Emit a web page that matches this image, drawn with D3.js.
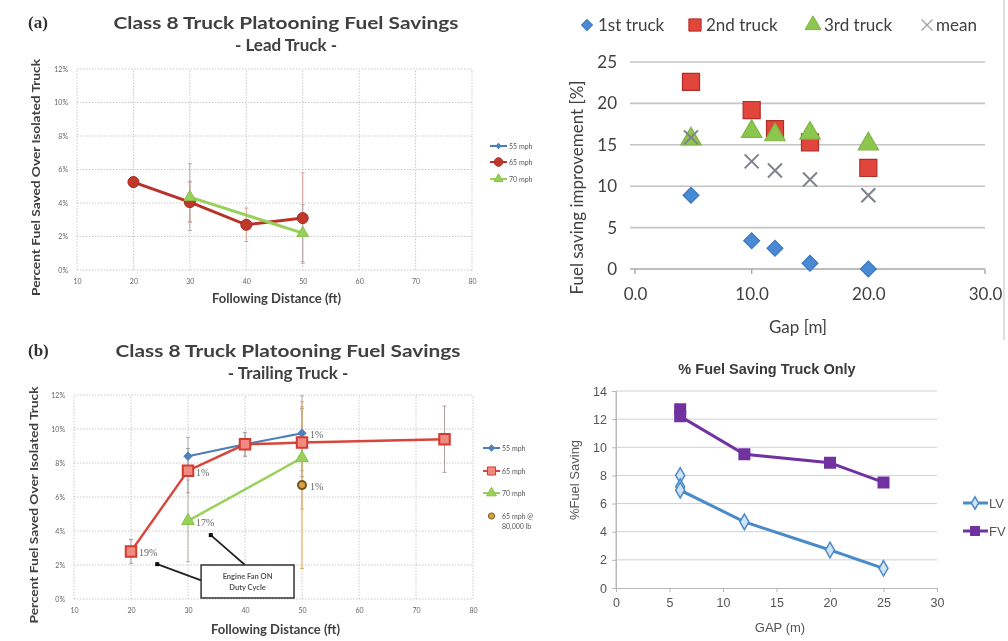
<!DOCTYPE html>
<html><head><meta charset="utf-8">
<script src="https://cdn.jsdelivr.net/npm/d3@7"></script>
<style>body{margin:0;background:#fff}svg{display:block}</style>
</head><body>
<script>
// ---------- Data ----------
const ftTicks = [10, 20, 30, 40, 50, 60, 70, 80];
const pctTicks = [0, 2, 4, 6, 8, 10, 12];

// (a) lead truck, % fuel saved vs following distance (ft)
const leadDist55 = [30];
const lead55 = [4.1];
const lead55Err = [1.2];
const leadDist65 = [20, 30, 40, 50];
const lead65 = [5.25, 4.05, 2.7, 3.1];
const lead65Err = [0.3, 1.2, 1.0, 2.7];
const leadDist70 = [30, 50];
const lead70 = [4.35, 2.2];
const lead70Err = [2.0, 1.7];

// (b) trailing truck
const trailDist55 = [30, 40, 50];
const trail55 = [8.4, 9.1, 9.75];
const trail55Err = [1.1, 0.7, 2.2];
const trailDist65 = [20, 30, 40, 50, 75];
const trail65 = [2.8, 7.55, 9.1, 9.2, 9.4];
const trail65Err = [0.7, 1.3, 0.7, 2.0, 1.95];
const trailDist70 = [30, 50];
const trail70 = [4.6, 8.3];
const trail70Err = [2.4, 3.0];
const trailDist80k = [50];
const trail80k = [6.7];
const trail80kErr = [4.9];
// coefficient-of-variation labels: [series, distance, text]
const covLabels = [["65", 20, "19%"], ["65", 30, "1%"], ["70", 30, "17%"], ["55", 50, "1%"], ["80k", 50, "1%"]];
const fanNote = ["Engine Fan ON", "Duty Cycle"];

// three-truck platoon, improvement vs gap (m)
const gapTicks = [0, 10, 20, 30];
const saveTicks = [0, 5, 10, 15, 20, 25];
const gapM = [4.8, 10, 12, 15, 20];
const truck1 = [8.9, 3.4, 2.5, 0.7, 0.0];
const truck2 = [22.6, 19.2, 16.9, 15.3, 12.2];
const truck3 = [15.7, 16.6, 16.2, 16.4, 15.1];
const truckMean = [15.9, 13.0, 11.9, 10.8, 8.9];
const truckNames = ["1st truck", "2nd truck", "3rd truck", "mean"];

// truck-only saving vs gap (m)
const gapTicksD = [0, 5, 10, 15, 20, 25, 30];
const fuelTicksD = [0, 2, 4, 6, 8, 10, 12, 14];
const lvGap = [6, 6, 6, 12, 20, 25];
const lvSave = [8.0, 7.2, 6.95, 4.7, 2.7, 1.4];
const fvGap = [6, 6, 12, 20, 25];
const fvSave = [12.7, 12.2, 9.5, 8.9, 7.5];

// ---------- Drawing ----------
const W = 1008, H = 641;
const svg = d3.select("body").append("svg").attr("width", W).attr("height", H);
const defs = svg.append("defs");
defs.append("filter").attr("id", "soft").append("feGaussianBlur").attr("stdDeviation", 0.6);
svg.append("rect").attr("width", W).attr("height", H).attr("fill", "#fff");
const root = svg.append("g").attr("filter", "url(#soft)");

const CAL = "Lato, 'Open Sans', sans-serif";
const ARI = "'Liberation Sans', Arial, sans-serif";
const sym = (type, size) => d3.symbol().type(type).size(size)();
// square diamond: a square turned by 45 degrees
const SQD = "sqd";
const shapePath = (type, size) => type === SQD ? sym(d3.symbolSquare, size) : sym(type, size);
const shapeRot = type => type === SQD ? " rotate(45)" : "";
const zip = (a, b, c) => a.map((v, i) => [v, b[i], c ? c[i] : 0]);

// Excel-style line chart with error bars
function errChart(cfg) {
  const g = root.append("g");
  const { x, y } = cfg;
  // dotted grid
  g.selectAll(".vg").data(ftTicks).join("line")
    .attr("x1", d => x(d)).attr("x2", d => x(d)).attr("y1", y(0)).attr("y2", y(12))
    .attr("stroke", "#c8c8c8").attr("stroke-width", 1).attr("stroke-dasharray", "1.5,1.5");
  g.selectAll(".hg").data(pctTicks).join("line")
    .attr("x1", x(10)).attr("x2", x(80)).attr("y1", d => y(d)).attr("y2", d => y(d))
    .attr("stroke", "#c8c8c8").attr("stroke-width", 1).attr("stroke-dasharray", "1.5,1.5");
  // axes labels
  const ax = g.append("g").attr("transform", `translate(0,${y(0)})`)
    .call(d3.axisBottom(x).tickValues(ftTicks).tickSize(0).tickPadding(9).tickFormat(d => d));
  const ay = g.append("g").attr("transform", `translate(${x(10)},0)`)
    .call(d3.axisLeft(y).tickValues(pctTicks).tickSize(0).tickPadding(9).tickFormat(d => d + "%"));
  [ax, ay].forEach(a => {
    a.select(".domain").remove();
    a.selectAll("text").attr("font-family", CAL).attr("font-size", 7).attr("fill", "#666");
  });
  // series
  cfg.series.forEach(s => {
    const pts = zip(s.xs, s.ys, s.errs);
    const eb = g.append("g").attr("stroke", s.errColor).attr("stroke-width", 1);
    pts.forEach(p => {
      if (!p[2]) return;
      eb.append("line").attr("x1", x(p[0])).attr("x2", x(p[0])).attr("y1", y(p[1] - p[2])).attr("y2", y(p[1] + p[2]));
      [p[1] - p[2], p[1] + p[2]].forEach(v => eb.append("line")
        .attr("x1", x(p[0]) - 2).attr("x2", x(p[0]) + 2).attr("y1", y(v)).attr("y2", y(v)));
    });
  });
  cfg.series.forEach(s => {
    const pts = zip(s.xs, s.ys);
    if (s.lineW) g.append("path").datum(pts).attr("fill", "none").attr("stroke", s.color)
      .attr("stroke-width", s.lineW).attr("d", d3.line().x(d => x(d[0])).y(d => y(d[1])));
    g.selectAll(null).data(pts).join("path")
      .attr("transform", d => `translate(${x(d[0])},${y(d[1])})` + shapeRot(s.shape))
      .attr("d", shapePath(s.shape, s.size)).attr("fill", s.fill).attr("stroke", s.stroke).attr("stroke-width", s.sw || 1);
  });
  // titles
  g.append("text").attr("x", cfg.tx).attr("y", cfg.ty1).attr("text-anchor", "middle")
    .attr("font-family", CAL).attr("font-weight", 700).attr("font-size", 17).attr("fill", "#404040")
    .attr("textLength", 345).attr("lengthAdjust", "spacingAndGlyphs")
    .text("Class 8 Truck Platooning Fuel Savings");
  g.append("text").attr("x", cfg.tx).attr("y", cfg.ty2).attr("text-anchor", "middle")
    .attr("font-family", CAL).attr("font-weight", 700).attr("font-size", 17).attr("fill", "#404040")
    .text(cfg.sub);
  g.append("text").attr("x", 28).attr("y", cfg.ty1 - 1)
    .attr("font-family", "'Liberation Serif', serif").attr("font-weight", 700).attr("font-size", 17).attr("fill", "#333")
    .text(cfg.tag);
  g.append("text").attr("transform", `translate(${cfg.yx},${(y(0) + y(12)) / 2 + 8}) rotate(-90)`)
    .attr("text-anchor", "middle").attr("font-family", CAL).attr("font-weight", 700).attr("font-size", 12)
    .attr("fill", "#404040").attr("textLength", 237).attr("lengthAdjust", "spacingAndGlyphs")
    .text("Percent Fuel Saved Over Isolated Truck");
  g.append("text").attr("x", (x(10) + x(80)) / 2 + 2).attr("y", cfg.xty).attr("text-anchor", "middle")
    .attr("font-family", CAL).attr("font-weight", 700).attr("font-size", 13).attr("fill", "#404040")
    .text("Following Distance (ft)");
  // legend
  const lg = g.append("g").attr("font-family", CAL).attr("font-size", 7).attr("fill", "#555");
  cfg.series.forEach((s, i) => {
    const ly = cfg.legY[i];
    if (s.lineW) lg.append("line").attr("x1", cfg.legX).attr("x2", cfg.legX + 17).attr("y1", ly).attr("y2", ly)
      .attr("stroke", s.color).attr("stroke-width", Math.min(2, s.lineW));
    lg.append("path").attr("transform", `translate(${cfg.legX + 8.5},${ly})` + shapeRot(s.shape))
      .attr("d", shapePath(s.shape, s.size * 0.6)).attr("fill", s.fill).attr("stroke", s.stroke).attr("stroke-width", 1);
    s.label.forEach((t, k) => lg.append("text").attr("x", cfg.legX + 19).attr("y", ly + 2.5 + k * 10).text(t));
  });
  return g;
}

// (a) lead truck
const xA = d3.scaleLinear().domain([10, 80]).range([77, 472]);
const yA = d3.scaleLinear().domain([0, 12]).range([270, 69]);
errChart({
  x: xA, y: yA, tx: 286, ty1: 29, ty2: 51, sub: "- Lead Truck -", tag: "(a)", yx: 40, xty: 303,
  legX: 490, legY: [146, 162, 179],
  series: [
    { xs: leadDist55, ys: lead55, errs: lead55Err, color: "#4a7ebb", lineW: 2, errColor: "#a9a9a9",
      shape: SQD, size: 20, fill: "#4f81bd", stroke: "#4f81bd", label: ["55 mph"] },
    { xs: leadDist65, ys: lead65, errs: lead65Err, color: "#b8302a", lineW: 3, errColor: "#e2a09a",
      shape: d3.symbolCircle, size: 95, fill: "#c0392b", stroke: "#a8261f", label: ["65 mph"] },
    { xs: leadDist70, ys: lead70, errs: lead70Err, color: "#98d05a", lineW: 3, errColor: "#b0b0b0",
      shape: d3.symbolTriangle, size: 60, fill: "#98d05a", stroke: "#88c04a", label: ["70 mph"] }
  ]
});

// (b) trailing truck
const xB = d3.scaleLinear().domain([10, 80]).range([74, 473]);
const yB = d3.scaleLinear().domain([0, 12]).range([599, 395]);
const gB = errChart({
  x: xB, y: yB, tx: 288, ty1: 357, ty2: 379, sub: "- Trailing Truck -", tag: "(b)", yx: 38, xty: 634,
  legX: 483, legY: [448, 471, 493, 516],
  series: [
    { key: "55", xs: trailDist55, ys: trail55, errs: trail55Err, color: "#4a7ebb", lineW: 2, errColor: "#a9b3c4",
      shape: SQD, size: 32, fill: "#4f81bd", stroke: "#4f81bd", label: ["55 mph"] },
    { key: "65", xs: trailDist65, ys: trail65, errs: trail65Err, color: "#d9453c", lineW: 2.5, errColor: "#b0a0a0",
      shape: d3.symbolSquare, size: 110, fill: "#f08a80", stroke: "#d33b31", sw: 2, label: ["65 mph"] },
    { key: "70", xs: trailDist70, ys: trail70, errs: trail70Err, color: "#9ad15a", lineW: 2.5, errColor: "#b5b5a5",
      shape: d3.symbolTriangle, size: 70, fill: "#9ad15a", stroke: "#88c04a", label: ["70 mph"] },
    { key: "80k", xs: trailDist80k, ys: trail80k, errs: trail80kErr, color: "#8a6a20", lineW: 0, errColor: "#e8a850",
      shape: d3.symbolCircle, size: 50, fill: "#e0a040", stroke: "#6b5a20", sw: 2, label: ["65 mph @", "80,000 lb"] }
  ]
});
// CoV labels next to their markers
const seriesB = { "55": [trailDist55, trail55], "65": [trailDist65, trail65], "70": [trailDist70, trail70], "80k": [trailDist80k, trail80k] };
covLabels.forEach(([k, d, t]) => {
  const v = seriesB[k][1][seriesB[k][0].indexOf(d)];
  gB.append("text").attr("x", xB(d) + 8).attr("y", yB(v) + 5)
    .attr("font-family", "'Liberation Serif', serif").attr("font-size", 10).attr("fill", "#666").text(t);
});
// "Engine Fan ON / Duty Cycle" callout (positions in chart units)
const note = { x0: 32.3, x1: 48.6, y0: 0.06, y1: 2.0 };
const arrows = [[[note.x0, 1.1], [24.6, 2.05]], [[40.0, note.y1], [34.0, 3.76]]];
arrows.forEach(([a, b]) => {
  gB.append("line").attr("x1", xB(a[0])).attr("y1", yB(a[1])).attr("x2", xB(b[0])).attr("y2", yB(b[1]))
    .attr("stroke", "#222").attr("stroke-width", 1.8);
  gB.append("rect").attr("x", xB(b[0]) - 2).attr("y", yB(b[1]) - 2).attr("width", 4).attr("height", 4).attr("fill", "#111");
});
gB.append("rect").attr("x", xB(note.x0)).attr("y", yB(note.y1)).attr("width", xB(note.x1) - xB(note.x0))
  .attr("height", yB(note.y0) - yB(note.y1)).attr("fill", "#fff").attr("stroke", "#333").attr("stroke-width", 1.5);
fanNote.forEach((t, i) => gB.append("text").attr("x", (xB(note.x0) + xB(note.x1)) / 2)
  .attr("y", yB(note.y1) + 14 + i * 11).attr("text-anchor", "middle")
  .attr("font-family", CAL).attr("font-weight", 700).attr("font-size", 7.5).attr("fill", "#555").text(t));

// ---------- three-truck scatter ----------
{
  const g = root.append("g");
  const x = d3.scaleLinear().domain([0, 30]).range([635, 985]);
  const y = d3.scaleLinear().domain([0, 25]).range([269, 62]);
  g.selectAll(".hg").data(saveTicks).join("line")
    .attr("x1", 630).attr("x2", x(30)).attr("y1", d => y(d)).attr("y2", d => y(d))
    .attr("stroke", d => d === 0 ? "#a8a8a8" : "#c4c4c4").attr("stroke-width", 1.6);
  g.selectAll(".xt").data(gapTicks).join("line")
    .attr("x1", d => x(d)).attr("x2", d => x(d)).attr("y1", y(0)).attr("y2", y(0) + 5)
    .attr("stroke", "#a8a8a8").attr("stroke-width", 1.4);
  const ax = g.append("g").attr("transform", `translate(0,${y(0)})`)
    .call(d3.axisBottom(x).tickValues(gapTicks).tickSize(0).tickPadding(19).tickFormat(d3.format(".1f")));
  const ay = g.append("g").attr("transform", `translate(${x(0)},0)`)
    .call(d3.axisLeft(y).tickValues(saveTicks).tickSize(0).tickPadding(18));
  [ax, ay].forEach(a => {
    a.select(".domain").remove();
    a.selectAll("text").attr("font-family", CAL).attr("font-size", 17).attr("fill", "#404040");
  });
  g.append("text").attr("transform", `translate(583,${(y(0) + y(25)) / 2 + 22}) rotate(-90)`)
    .attr("text-anchor", "middle").attr("font-family", CAL).attr("font-size", 17).attr("fill", "#404040")
    .text("Fuel saving improvement [%]");
  g.append("text").attr("x", 798).attr("y", 333).attr("text-anchor", "middle")
    .attr("font-family", CAL).attr("font-size", 17).attr("fill", "#404040").text("Gap [m]");

  const styles = [
    { ys: truck1, shape: SQD, size: 125, lsize: 60, fill: "#4a8ad4", stroke: "#3b78c0" },
    { ys: truck2, shape: d3.symbolSquare, size: 290, lsize: 150, fill: "#e2453a", stroke: "#b02e26" },
    { ys: truck3, shape: d3.symbolTriangle, size: 180, lsize: 110, fill: "#8dc650", stroke: "#7db640" },
    { ys: truckMean, cross: 7, stroke: "#7f8090" }
  ];
  const crossPath = s => `M${-s},${-s}L${s},${s}M${s},${-s}L${-s},${s}`;
  styles.forEach(s => {
    const pts = zip(gapM, s.ys);
    g.selectAll(null).data(pts).join("path")
      .attr("transform", d => `translate(${x(d[0])},${y(d[1])})` + (s.cross ? "" : shapeRot(s.shape)))
      .attr("d", s.cross ? crossPath(s.cross) : shapePath(s.shape, s.size))
      .attr("fill", s.cross ? "none" : s.fill).attr("stroke", s.stroke)
      .attr("stroke-width", s.cross ? 2 : 1.2);
  });
  // legend
  const legX = [587, 695, 813, 927];
  const lg = g.append("g").attr("font-family", CAL).attr("font-size", 17).attr("fill", "#404040");
  styles.forEach((s, i) => {
    lg.append("path").attr("transform", `translate(${legX[i]},25)` + (s.cross ? "" : shapeRot(s.shape)))
      .attr("d", s.cross ? crossPath(5.5) : shapePath(s.shape, s.lsize))
      .attr("fill", s.cross ? "none" : s.fill).attr("stroke", s.cross ? "#a0a0a8" : s.stroke).attr("stroke-width", s.cross ? 1.3 : 1);
    lg.append("text").attr("x", legX[i] + (i === 3 ? 9 : 11)).attr("y", 31).text(truckNames[i]);
  });
  g.append("line").attr("x1", 1004).attr("x2", 1004).attr("y1", 0).attr("y2", 340)
    .attr("stroke", "#d4d4d4").attr("stroke-width", 1.5);
}

// ---------- truck-only saving ----------
{
  const g = root.append("g");
  const x = d3.scaleLinear().domain([0, 30]).range([616, 937]);
  const y = d3.scaleLinear().domain([0, 14]).range([588, 391]);
  g.selectAll(".hg").data(fuelTicksD.filter(d => d > 0)).join("line")
    .attr("x1", x(0)).attr("x2", x(30)).attr("y1", d => y(d)).attr("y2", d => y(d))
    .attr("stroke", "#d0d0d0").attr("stroke-width", 1);
  g.append("line").attr("x1", x(0)).attr("x2", x(0)).attr("y1", y(0)).attr("y2", y(14)).attr("stroke", "#b8b8b8");
  const ax = g.append("g").attr("transform", `translate(0,${y(0)})`)
    .call(d3.axisBottom(x).tickValues(gapTicksD).tickSize(4).tickPadding(6));
  const ay = g.append("g").attr("transform", `translate(${x(0)},0)`)
    .call(d3.axisLeft(y).tickValues(fuelTicksD).tickSize(4).tickPadding(5));
  [ax, ay].forEach(a => {
    a.select(".domain").attr("stroke", "#b8b8b8");
    a.selectAll("line").attr("stroke", "#b8b8b8");
    a.selectAll("text").attr("font-family", ARI).attr("font-size", 12.5).attr("fill", "#555");
  });
  g.append("text").attr("x", 767).attr("y", 374).attr("text-anchor", "middle")
    .attr("font-family", ARI).attr("font-weight", 700).attr("font-size", 14.5).attr("fill", "#3a3a3a")
    .text("% Fuel Saving Truck Only");
  g.append("text").attr("transform", `translate(579,480) rotate(-90)`).attr("text-anchor", "middle")
    .attr("font-family", ARI).attr("font-size", 13).attr("fill", "#555").text("%Fuel Saving");
  g.append("text").attr("x", 780).attr("y", 632).attr("text-anchor", "middle")
    .attr("font-family", ARI).attr("font-size", 13).attr("fill", "#555").text("GAP (m)");

  const line = d3.line().x(d => x(d[0])).y(d => y(d[1]));
  const series = [
    { name: "LV", pts: zip(lvGap, lvSave), color: "#4a8ac8", d: sym(d3.symbolDiamond, 70), ld: sym(d3.symbolDiamond, 45), fill: "#cfe3f5", ly: 503 },
    { name: "FV", pts: zip(fvGap, fvSave), color: "#7030a0", d: sym(d3.symbolSquare, 110), ld: sym(d3.symbolSquare, 70), fill: "#7030a0", ly: 531 }
  ];
  series.forEach(s => {
    g.append("path").datum(s.pts).attr("d", line).attr("fill", "none").attr("stroke", s.color).attr("stroke-width", 3);
    g.selectAll(null).data(s.pts).join("path")
      .attr("transform", d => `translate(${x(d[0])},${y(d[1])})`)
      .attr("d", s.d).attr("fill", s.fill).attr("stroke", s.color).attr("stroke-width", 1.5);
    g.append("line").attr("x1", 963).attr("x2", 988).attr("y1", s.ly).attr("y2", s.ly)
      .attr("stroke", s.color).attr("stroke-width", 3);
    g.append("path").attr("transform", `translate(975,${s.ly})`).attr("d", s.ld)
      .attr("fill", s.fill).attr("stroke", s.color).attr("stroke-width", 1.5);
    g.append("text").attr("x", 989).attr("y", s.ly + 5).attr("font-family", ARI).attr("font-size", 13)
      .attr("fill", "#555").text(s.name);
  });
}
</script>
</body></html>
